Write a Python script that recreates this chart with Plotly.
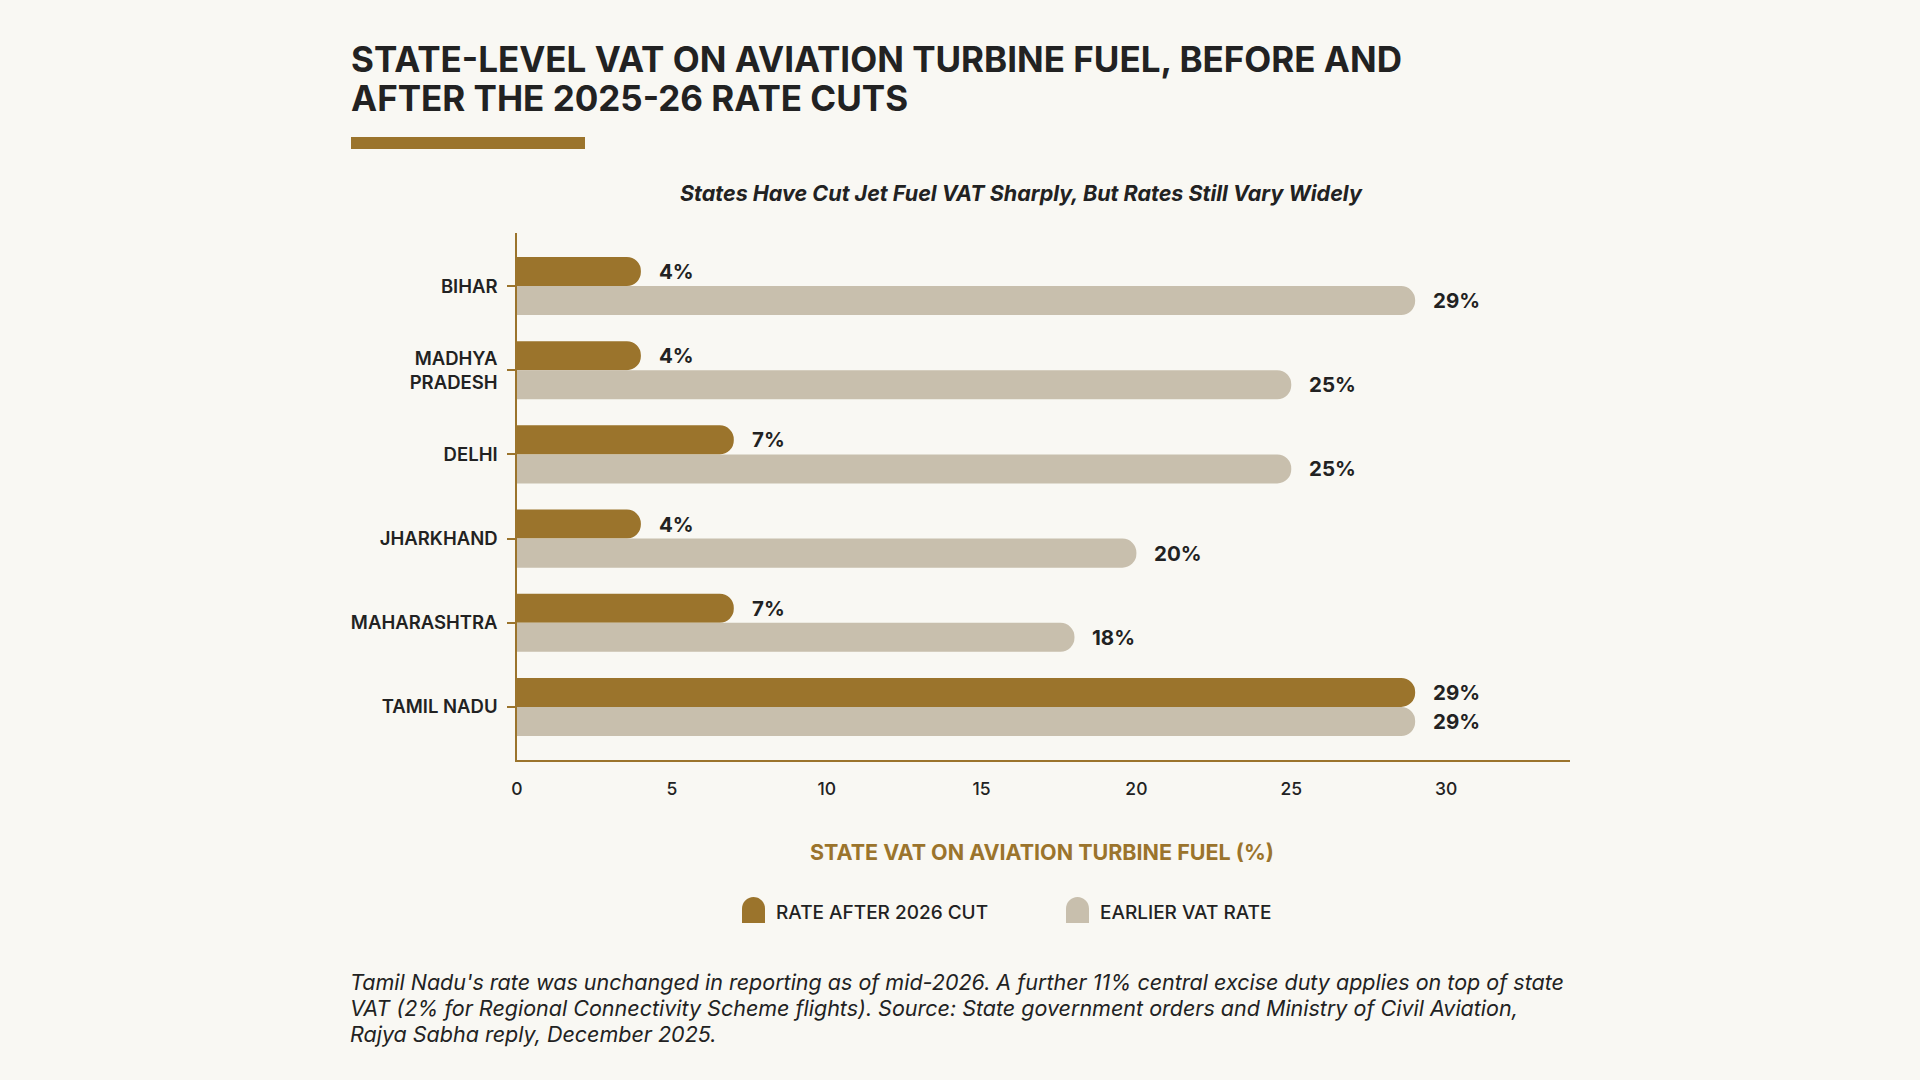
import plotly.graph_objects as go

# data
states = ["BIHAR", "MADHYA<br>PRADESH", "DELHI", "JHARKHAND", "MAHARASHTRA", "TAMIL NADU"]
rate_after = [4, 4, 7, 4, 7, 29]
rate_before = [29, 25, 25, 20, 18, 29]

series_names = ["RATE AFTER 2026 CUT", "EARLIER VAT RATE"]

GOLD = "#9B742C"
SAND = "#C8BFAD"
BG = "#F9F8F3"
INK = "#222222"
FONT = "Inter"

W, H = 1920, 1080
ML, MR, MT, MB = 517, 350, 233, 320
PW, PH = W - ML - MR, H - MT - MB


# pixel -> paper helpers for the decoration
def px(x):
    return (x - ML) / PW


def py(y):
    return (H - MB - y) / PH


fig = go.Figure()
fig.add_trace(go.Bar(name=series_names[0], y=states, x=rate_after, orientation="h",
                     marker=dict(color=GOLD, cornerradius=14, line_width=0),
                     hoverinfo="x+y", showlegend=False))
fig.add_trace(go.Bar(name=series_names[1], y=states, x=rate_before, orientation="h",
                     marker=dict(color=SAND, cornerradius=14, line_width=0),
                     hoverinfo="x+y", showlegend=False))

# value labels
for s, a, b in zip(states, rate_after, rate_before):
    fig.add_annotation(x=a, y=s, text="%d%%" % a, showarrow=False, xanchor="left",
                       xshift=16, yshift=14.5, font=dict(family=FONT, size=20.5, color=INK, weight=700))
    fig.add_annotation(x=b, y=s, text="%d%%" % b, showarrow=False, xanchor="left",
                       xshift=16, yshift=-14.5, font=dict(family=FONT, size=20.5, color=INK, weight=700))

# title
title_lines = ["STATE-LEVEL VAT ON AVIATION TURBINE FUEL, BEFORE AND", "AFTER THE 2025-26 RATE CUTS"]
for ty, line in zip([59, 98], title_lines):
    fig.add_annotation(xref="paper", yref="paper", x=px(349), y=py(ty), xanchor="left", yanchor="middle",
                       text=line, showarrow=False,
                       font=dict(family=FONT, size=35, color=INK, weight=700))
fig.add_shape(type="rect", xref="paper", yref="paper", x0=px(351), x1=px(585), y0=py(149), y1=py(137),
              fillcolor=GOLD, line_width=0)

# subtitle
fig.add_annotation(xref="paper", yref="paper", x=px(1021), y=py(193), xanchor="center", yanchor="middle",
                   text="<i>States Have Cut Jet Fuel VAT Sharply, But Rates Still Vary Widely</i>",
                   showarrow=False, font=dict(family=FONT, size=21.5, color=INK, weight=700))

# x axis title
fig.add_annotation(xref="paper", yref="paper", x=px(1042), y=py(852), xanchor="center", yanchor="middle",
                   text="STATE VAT ON AVIATION TURBINE FUEL (%)", showarrow=False,
                   font=dict(family=FONT, size=21.5, color=GOLD, weight=700))

# legend (drawn by hand to get the rounded swatches)
legend_items = [(742, series_names[0], GOLD), (1066, series_names[1], SAND)]
for lx, name, col in legend_items:
    fig.add_shape(type="path", xref="paper", yref="paper", xsizemode="pixel", ysizemode="pixel",
                  xanchor=px(lx), yanchor=py(923),
                  path="M0,0 L0,14.5 C0,20.8 5.2,26 11.5,26 C17.8,26 23,20.8 23,14.5 L23,0 Z",
                  fillcolor=col, line_width=0)
    fig.add_annotation(xref="paper", yref="paper", x=px(lx + 32), y=py(912), xanchor="left",
                       yanchor="middle", text=name, showarrow=False,
                       font=dict(family=FONT, size=19, color=INK, weight=500))

# footnote
foot_lines = [
    "Tamil Nadu's rate was unchanged in reporting as of mid-2026. A further 11% central excise duty applies on top of state",
    "VAT (2% for Regional Connectivity Scheme flights). Source: State government orders and Ministry of Civil Aviation,",
    "Rajya Sabha reply, December 2025.",
]
for fy, line in zip([982, 1008, 1034], foot_lines):
    fig.add_annotation(xref="paper", yref="paper", x=px(348), y=py(fy), xanchor="left", yanchor="middle",
                       align="left", showarrow=False, text="<i>%s</i>" % line,
                       font=dict(family=FONT, size=21.5, color=INK))

fig.update_layout(
    width=W, height=H,
    margin=dict(l=ML, r=MR, t=MT, b=MB),
    paper_bgcolor=BG, plot_bgcolor=BG,
    barmode="group", bargap=0.31, bargroupgap=0,
    font=dict(family=FONT, color=INK),
    showlegend=False,
)
fig.update_xaxes(range=[0, 34], tickvals=[0, 5, 10, 15, 20, 25, 30], showgrid=False, zeroline=False,
                 showline=True, linecolor=GOLD, linewidth=1.5, ticks="", ticklabelstandoff=12,
                 tickfont=dict(family=FONT, size=17.5, color=INK, weight=500))
fig.update_yaxes(categoryorder="array", categoryarray=states, range=[5.63, -0.63], showgrid=False,
                 showline=True, linecolor=GOLD, linewidth=1.5, ticks="outside", ticklen=8,
                 tickcolor=GOLD, tickwidth=1.5, ticklabelstandoff=6,
                 tickfont=dict(family=FONT, size=18.5, color=INK, weight=600))

fig.write_html("out.html", config={"displayModeBar": False},
               post_script="document.body.style.margin='0';")
